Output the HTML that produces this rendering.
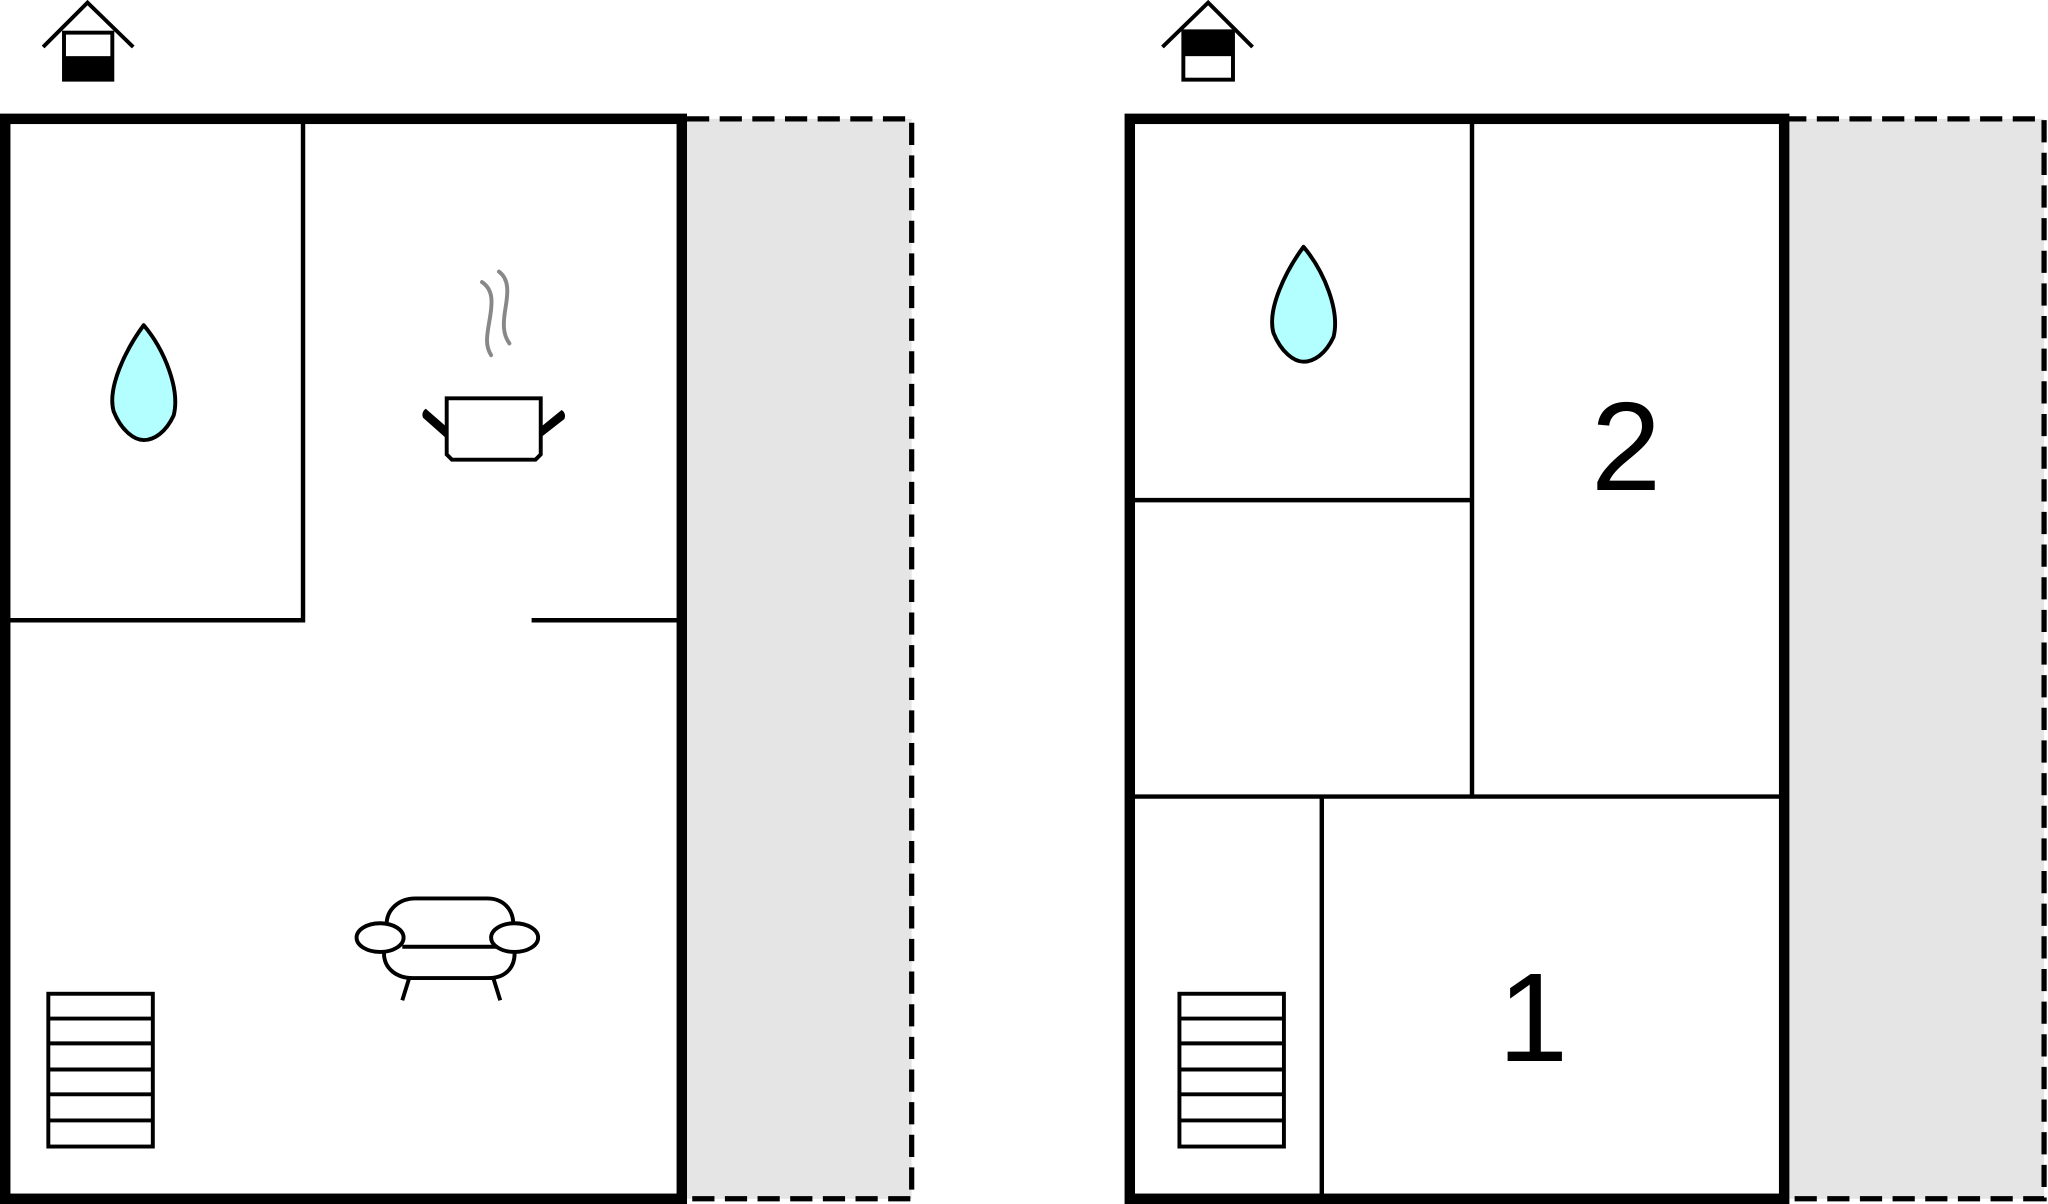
<!DOCTYPE html>
<html><head><meta charset="utf-8"><style>
html,body{margin:0;padding:0;background:#fff;}
body{position:relative;width:2048px;height:1204px;overflow:hidden;}
svg{display:block;position:absolute;left:0;top:0;}
.num{position:absolute;font-family:"Liberation Sans",Arial,Helvetica,sans-serif;font-size:126px;line-height:1;color:#000;width:120px;text-align:center;}
</style></head><body>
<svg width="2048" height="1204" viewBox="0 0 1568 922" preserveAspectRatio="none" xmlns="http://www.w3.org/2000/svg">
<rect x="526" y="91" width="172" height="827" fill="#e5e5e5"/>
<path d="M526 91 H698 V918 H526" fill="none" stroke="#000" stroke-width="4" stroke-dasharray="17 8"/>
<rect x="4" y="91" width="518" height="827" fill="#fff" stroke="#000" stroke-width="8"/>
<g stroke="#000" stroke-width="3.4" fill="none">
<path d="M232 91 V475 H6"/>
<path d="M407 475 H520"/>
</g>
<g stroke="#000" stroke-width="3" fill="none">
<path d="M33 36 L67 2 L102 36"/>
<rect x="49" y="25" width="37" height="36" fill="#fff"/>
</g>
<rect x="48" y="43" width="39" height="19" fill="#000"/>
<path d="M110 249 C96 268 82 297 87 315 C93 330 103 337 110 337 C118 337 127 331 133 318 C138 298 126 268 110 249 Z" fill="#b3ffff" stroke="#000" stroke-width="3" stroke-linejoin="round"/>
<g stroke="#000" stroke-width="3" fill="#fff">
<path d="M342 305 H414 V348 L410 352 H346 L342 348 Z"/>
</g>
<path d="M342 327 L326 313 C323 315 323 318 324 320 L342 336 Z" fill="#000"/>
<path d="M414 327 L430 314 C433 316 433 319 432 321 L414 335 Z" fill="#000"/>
<g stroke="#888" stroke-width="3" fill="none" stroke-linecap="round">
<path d="M369 216 C378 222 377 232 375 244 C373 256 371 264 376 272"/>
<path d="M382 208 C390 214 389 224 387 236 C385 248 385 256 390 263"/>
</g>
<g stroke="#000" stroke-width="3" fill="#fff">
<path d="M296 708 C296 696 306 688 318 688 H373 C385 688 393 696 393 708"/>
<path d="M294 730 C294 742 304 749 316 749 H374 C386 749 394 742 394 730"/>
<path d="M308 725 H380"/>
<ellipse cx="291" cy="718" rx="18" ry="11"/>
<ellipse cx="394" cy="718" rx="18" ry="11"/>
<path d="M313 750 L308 766 M378 750 L383 766" fill="none"/>
</g>
<g stroke="#000" stroke-width="3" fill="none">
<rect x="37" y="761" width="80" height="117"/>
<path d="M37 780 H117 M37 799 H117 M37 819 H117 M37 838 H117 M37 858 H117"/>
</g>
<rect x="1370" y="91" width="195" height="827" fill="#e5e5e5"/>
<path d="M1366 91 H1565 V918 H1366" fill="none" stroke="#000" stroke-width="4" stroke-dasharray="17 8"/>
<rect x="865" y="91" width="501" height="827" fill="#fff" stroke="#000" stroke-width="8"/>
<g stroke="#000" stroke-width="3.4" fill="none">
<path d="M1127 91 V610"/>
<path d="M867 383 H1127"/>
<path d="M867 610 H1364"/>
<path d="M1012 610 V916"/>
</g>
<g stroke="#000" stroke-width="3" fill="none">
<path d="M890 36 L925 2 L959 36"/>
<rect x="906" y="24" width="38" height="37" fill="#fff"/>
</g>
<rect x="905" y="23" width="40" height="20" fill="#000"/>
<path d="M998 189 C984 208 970 237 975 255 C981 270 991 277 998 277 C1006 277 1015 271 1021 258 C1026 238 1014 208 998 189 Z" fill="#b3ffff" stroke="#000" stroke-width="3" stroke-linejoin="round"/>
<g stroke="#000" stroke-width="3" fill="none">
<rect x="903" y="761" width="80" height="117"/>
<path d="M903 780 H983 M903 799 H983 M903 819 H983 M903 838 H983 M903 858 H983"/>
</g>
</svg>
<div class="num" style="left:1566px;top:384px;">2</div>
<div class="num" style="left:1473px;top:955px;">1</div>
</body></html>
